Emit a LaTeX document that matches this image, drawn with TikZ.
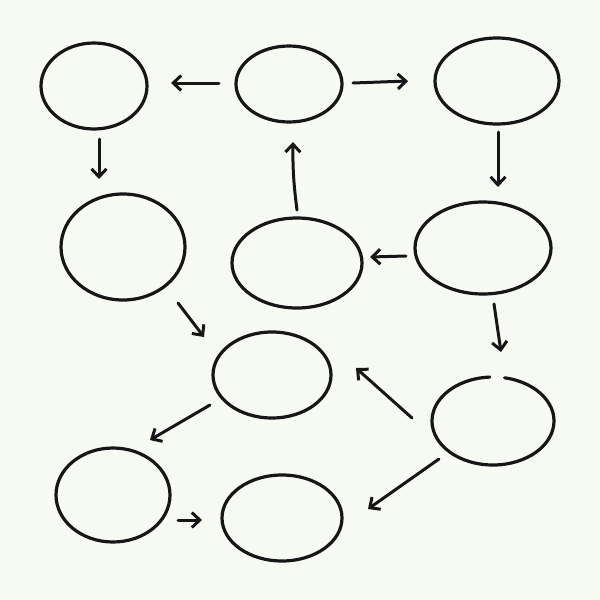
\documentclass[tikz,border=0pt]{standalone}
\usetikzlibrary{shapes.geometric,arrows.meta}
\definecolor{bg}{HTML}{F7F9F3}
\definecolor{ink}{HTML}{161616}
\begin{document}
\begin{tikzpicture}[x=1pt,y=-1pt,
  bubble/.style={ellipse,draw=ink,line width=3.2pt,inner sep=0pt},
  link/.style={draw=ink,line width=3pt,line cap=round,-{Straight Barb[length=8pt,width=15pt,line width=3pt]}}]
\fill[bg] (0,0) rectangle (600,600);
\useasboundingbox (0,0) rectangle (600,600);
% bubbles
\node[bubble,minimum width=106pt,minimum height=86pt] (e1) at (94,86) {};
\node[bubble,minimum width=106pt,minimum height=76pt] (e2) at (289,84) {};
\node[bubble,minimum width=124pt,minimum height=86pt] (e3) at (497,81) {};
\node[bubble,minimum width=124pt,minimum height=106pt] (e4) at (123,247) {};
\node[bubble,minimum width=130pt,minimum height=90pt] (e5) at (297,263) {};
\node[bubble,minimum width=136pt,minimum height=92pt] (e6) at (483,248) {};
\node[bubble,minimum width=118pt,minimum height=86pt] (e7) at (272,375) {};
\node[ellipse,minimum width=122pt,minimum height=88pt,inner sep=0pt] (e8) at (493,421) {};
\draw[ink,line width=3.2pt,line cap=round] ([shift={(-79:61 and 44)}]e8.center) arc[start angle=-79,end angle=267,x radius=61,y radius=44];
\node[bubble,minimum width=114pt,minimum height=94pt] (e9) at (113,495) {};
\node[bubble,minimum width=120pt,minimum height=86pt] (e10) at (282,518) {};
% arrow ends
\coordinate (a21s) at (219,83);  \coordinate (a21e) at (171,83);
\coordinate (a23s) at (353,83);  \coordinate (a23e) at (408,81);
\coordinate (a14s) at (99,139);  \coordinate (a14e) at (99,179);
\coordinate (a36s) at (498,132); \coordinate (a36e) at (498,187);
\coordinate (a52s) at (297,210); \coordinate (a52e) at (293,142);
\coordinate (a65s) at (406,256); \coordinate (a65e) at (370,257);
\coordinate (a47s) at (178,303); \coordinate (a47e) at (204,337);
\coordinate (a68s) at (494,304); \coordinate (a68e) at (501,352);
\coordinate (a87s) at (412,418); \coordinate (a87e) at (356,368);
\coordinate (a79s) at (210,405); \coordinate (a79e) at (150,440);
\coordinate (a810s) at (439,459); \coordinate (a810e) at (368,509);
\coordinate (a910s) at (178,520); \coordinate (a910e) at (202,520);
% connectors
\draw[link] (a21s) -- (a21e);
\draw[link] (a23s) -- (a23e);
\draw[link] (a14s) -- (a14e);
\draw[link] (a36s) -- (a36e);
\draw[link] (a52s) to[bend left=4] (a52e);
\draw[link] (a65s) -- (a65e);
\draw[link] (a47s) -- (a47e);
\draw[link] (a68s) -- (a68e);
\draw[link] (a87s) -- (a87e);
\draw[link] (a79s) -- (a79e);
\draw[link] (a810s) -- (a810e);
\draw[link] (a910s) -- (a910e);
\end{tikzpicture}
\end{document}
